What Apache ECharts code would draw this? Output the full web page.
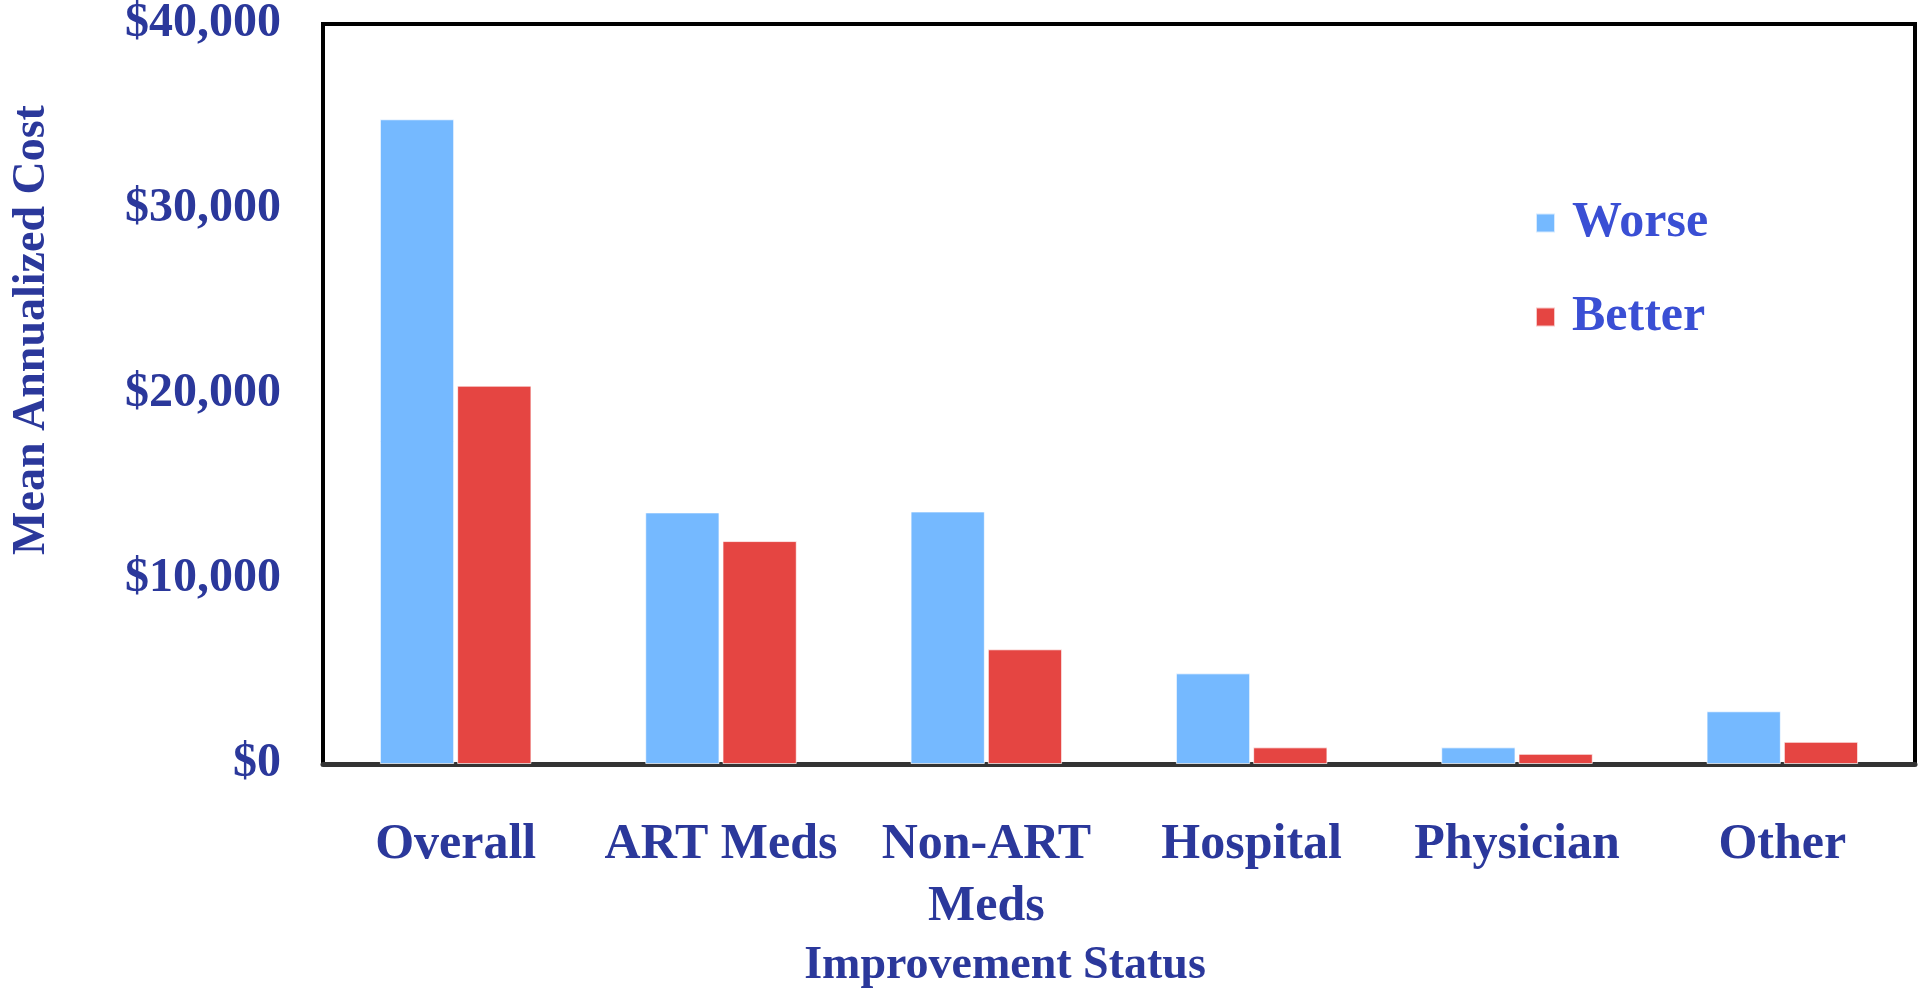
<!DOCTYPE html>
<html>
<head>
<meta charset="utf-8">
<title>Mean Annualized Cost by Improvement Status</title>
<script src="https://cdn.jsdelivr.net/npm/echarts@6/dist/echarts.min.js"></script>
<style>
  html, body { margin: 0; padding: 0; background: #fff; }
  #chart { width: 1930px; height: 991px; }
</style>
</head>
<body>
<div id="chart"></div>
<script>
// data
const categories = ['Overall', 'ART Meds', 'Non-ART\nMeds', 'Hospital', 'Physician', 'Other'];
const worse = [34850, 13600, 13650, 4900, 900, 2850];
const better = [20450, 12050, 6200, 900, 550, 1200];
const yTicks = [0, 10000, 20000, 30000, 40000];

const serif = "'Liberation Serif', 'Times New Roman', serif";
const navy = '#2B389B';

const chart = echarts.init(document.getElementById('chart'));

chart.setOption({
    backgroundColor: '#fff',
    animation: false,
    grid: {
        left: 323,
        right: 15,
        top: 21,
        bottom: 227,
        show: true,
        borderColor: '#000',
        borderWidth: 4
    },
    legend: {
        orient: 'vertical',
        left: 1530,
        top: 186,
        itemWidth: 19,
        itemHeight: 19,
        itemGap: 30,
        icon: 'rect',
        data: ['Worse', 'Better'],
        textStyle: {
            fontFamily: serif,
            fontWeight: 'bold',
            fontSize: 50,
            lineHeight: 56,
            color: '#3A4FD4',
            padding: [8, 0, 0, 12]
        }
    },
    xAxis: {
        type: 'category',
        data: categories,
        axisTick: { show: false },
        axisLine: { lineStyle: { color: '#333', width: 5 } },
        axisLabel: {
            margin: 50,
            interval: 0,
            fontFamily: serif,
            fontWeight: 'bold',
            fontSize: 50,
            lineHeight: 62,
            color: navy
        }
    },
    yAxis: {
        type: 'value',
        min: yTicks[0],
        max: yTicks[yTicks.length - 1],
        interval: yTicks[1] - yTicks[0],
        splitLine: { show: false },
        axisTick: { show: false },
        axisLine: { show: true, lineStyle: { color: '#000', width: 3 } },
        axisLabel: {
            margin: 42,
            fontFamily: serif,
            fontWeight: 'bold',
            fontSize: 48,
            color: navy,
            formatter: (v) => '$' + v.toLocaleString('en-US')
        }
    },
    graphic: [
        {
            type: 'text',
            x: 32,
            y: 330,
            rotation: Math.PI / 2,
            style: {
                text: 'Mean Annualized Cost',
                fontFamily: serif,
                fontWeight: 'bold',
                fontSize: 46,
                fill: navy,
                align: 'center',
                verticalAlign: 'middle'
            }
        },
        {
            type: 'text',
            x: 1005,
            y: 966,
            style: {
                text: 'Improvement Status',
                fontFamily: serif,
                fontWeight: 'bold',
                fontSize: 46,
                fill: navy,
                align: 'center',
                verticalAlign: 'middle'
            }
        }
    ],
    series: [
        {
            name: 'Worse',
            type: 'bar',
            data: worse,
            barWidth: '28%',
            barGap: '4%',
            itemStyle: { color: '#75B9FF', borderColor: 'rgba(255,255,255,0.7)', borderWidth: 1 }
        },
        {
            name: 'Better',
            type: 'bar',
            data: better,
            barWidth: '28%',
            itemStyle: { color: '#E54542', borderColor: 'rgba(255,255,255,0.7)', borderWidth: 1 }
        }
    ]
});
</script>
</body>
</html>
